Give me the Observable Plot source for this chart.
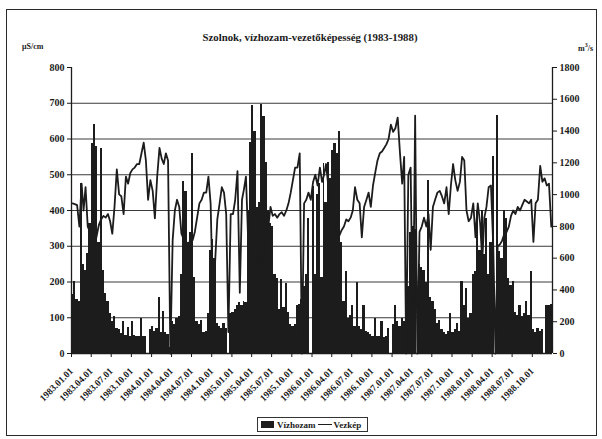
<!DOCTYPE html>
<html>
<head>
<meta charset="utf-8">
<script src="https://cdn.jsdelivr.net/npm/d3@7"></script>
<script src="https://cdn.jsdelivr.net/npm/@observablehq/plot@0.6"></script>
<style>
  body { margin: 0; background: #fff; }
  #wrap { position: relative; width: 602px; height: 439px; overflow: hidden;
          font-family: "Liberation Serif", "Times New Roman", serif; color: #1a1a1a; background: #fff; }
  #frame { position: absolute; left: 6px; top: 9px; width: 591px; height: 427px;
           border: 1.5px solid #2a2a2a; box-sizing: border-box; }
  #title { position: absolute; left: 0; width: 620px; top: 31px; text-align: center;
           font-weight: bold; font-size: 10.8px; }
  .unit { position: absolute; top: 42px; font-weight: bold; font-size: 8px; }
  #chart { position: absolute; left: 0; top: 0; }
  #legend { position: absolute; left: 257px; top: 417px; width: 111px; height: 15px;
            border: 1px solid #333; box-sizing: border-box; display: flex; align-items: center;
            font-size: 9px; font-weight: bold; padding-left: 3px; }
  #legend .sw { width: 13px; height: 7px; background: #1c1c1c; margin-right: 3px; }
  #legend .ln { width: 14px; height: 0; border-top: 1.5px solid #1c1c1c; margin: 0 2px; }
</style>
</head>
<body>
<div id="wrap">
  <div id="frame"></div>
  <div id="title">Szolnok, vízhozam-vezetőképesség (1983-1988)</div>
  <div class="unit" style="left:22px">μS/cm</div>
  <div class="unit" style="left:578px">m<sup style="font-size:6px">3</sup>/s</div>
  <div id="chart"></div>
  <div id="legend"><span class="sw"></span><span>Vízhozam</span><span class="ln"></span><span>Vezkép</span></div>
</div>
<script>
// Dekad values (1st, 11th, 21st of each month), Jan..Dec
// Vízhozam (discharge, m3/s) - right axis
const vizhozam1983 = [370,455,340, 330,1070,560, 520,630,820, 1320,1440,1300, 700,1290,520, 380,330,250, 200,230,160, 150,125,200, 115,165,110, 200,115,110, 105,220,110, 110,0,150];
const vizhozam1984 = [170,140,160, 350,130,265, 130,120,40, 200,180,220, 230,500,1080, 1020,700,760, 1260,480,200, 180,210,130, 140,250,650, 720,600,190, 170,160,190, 160,0,250];
const vizhozam1985 = [260,280,300, 320,300,330, 320,900,1330, 1560,1400,920, 950,1570,1490, 1200,900,820, 800,500,470, 280,465,290, 440,260,180, 170,180,300, 310,340,420, 500,850,0];
const vizhozam1986 = [1050,500,1000, 1070,480,1195, 950,1200,1100, 1280,1320,1260, 1400,700,330, 515,220,240, 305,170,450, 170,150,305, 140,130,120, 110,220,110, 105,200,100, 110,160,0];
const vizhozam1987 = [180,305,200, 170,220,200, 480,420,760, 800,780,0, 560,540,520, 450,1090,350, 330,275,190, 210,150,130, 120,140,250, 130,150,190, 140,455,300, 410,220,250];
const vizhozam1988 = [500,515,900, 650,900,620, 850,500,700, 1240,0,1500, 640,600,900, 850,470,430, 455,260,240, 305,230,250, 325,240,515, 150,130,160, 140,150,0, 300,305,310];

// Vezkép (conductivity, μS/cm) - left axis
const vezkep1983 = [420,418,415, 355,475,400, 465,355,340, 320,300,330, 360,375,385, 380,390,370, 335,410,515, 445,440,390, 495,475,505, 515,520,530, 530,560,590, 540,430,485];
const vezkep1984 = [455,378,495, 575,545,530, 560,540,0, 317,400,430, 410,335,320, 310,300,320, 317,340,380, 420,430,450, 450,495,420, 150,250,375, 420,465,450, 390,60,390];
const vezkep1985 = [390,430,510, 170,430,460, 495,320,280, 260,250,270, 280,260,250, 300,355,410, 385,390,380, 390,395,385, 400,420,450, 485,520,520, 560,0,420, 430,450,430];
const vezkep1986 = [480,500,470, 520,480,500, 530,470,420, 380,340,320, 330,345,355, 375,370,380, 400,465,430, 420,325,410, 430,450,410, 470,505,540, 560,565,575, 585,600,640];
const vezkep1987 = [620,630,660, 560,475,550, 0,500,520, 40,665,0, 340,355,380, 355,390,290, 410,430,450, 455,440,420, 465,390,470, 530,485,455, 480,550,540, 400,370,380];
const vezkep1988 = [420,325,420, 365,260,380, 410,465,470, 300,0,300, 305,315,335, 340,355,385, 400,390,410, 400,415,430, 425,420,430, 312,420,430, 525,480,490, 470,475,355];

const years = [1983, 1984, 1985, 1986, 1987, 1988];
const dekadDays = [1, 11, 21];
const leftTicks = [0, 100, 200, 300, 400, 500, 600, 700, 800];
const rightTicks = [0, 200, 400, 600, 800, 1000, 1200, 1400, 1600, 1800];
const xDomain = [new Date(Date.UTC(1983, 0, 1)), new Date(Date.UTC(1989, 0, 1))];
const quarterTicks = d3.utcMonth.every(3).range(xDomain[0], xDomain[1]);

const qSeries = [vizhozam1983, vizhozam1984, vizhozam1985, vizhozam1986, vizhozam1987, vizhozam1988];
const cSeries = [vezkep1983, vezkep1984, vezkep1985, vezkep1986, vezkep1987, vezkep1988];

const rows = [];
years.forEach((yr, yi) => {
  for (let i = 0; i < 36; i++) {
    const m = Math.floor(i / 3), d = i % 3;
    const start = new Date(Date.UTC(yr, m, dekadDays[d]));
    const end = d < 2 ? new Date(Date.UTC(yr, m, dekadDays[d + 1])) : new Date(Date.UTC(yr, m + 1, 1));
    rows.push({start, end, mid: new Date((+start + +end) / 2), q: qSeries[yi][i], c: cSeries[yi][i]});
  }
});

const k = 800 / 1800; // right-axis (m3/s) to left-axis (μS/cm) scaling

const chart = Plot.plot({
  width: 602,
  height: 415,
  marginLeft: 71,
  marginRight: 50,
  marginTop: 67,
  marginBottom: 62,
  style: {fontFamily: "'Liberation Serif', 'Times New Roman', serif", fontSize: "10px", color: "#1a1a1a", background: "transparent", overflow: "visible"},
  x: {type: "utc", domain: xDomain},
  y: {domain: [0, 800]},
  marks: [
    Plot.gridY(leftTicks.filter(d => d > 0 && d < 800), {stroke: "#3a3a3a", strokeOpacity: 1, strokeWidth: 1}),
    Plot.rectY(rows, {x1: "start", x2: "end", y: d => d.q * k, fill: "#1c1c1c", shapeRendering: "crispEdges"}),
    Plot.line(rows, {x: "mid", y: "c", stroke: "#1c1c1c", strokeWidth: 1.8}),
    Plot.ruleY([0], {stroke: "#1c1c1c", strokeWidth: 1.3}),
    Plot.ruleX(xDomain, {stroke: "#1c1c1c", strokeWidth: 1.3}),
    Plot.axisY(leftTicks, {anchor: "left", tickSize: 4, tickPadding: 3, label: null, fontWeight: "bold"}),
    Plot.axisY(rightTicks.map(v => v * k), {anchor: "right", tickSize: 4, tickPadding: 3, label: null,
      tickFormat: d => String(Math.round(d / k)), fontWeight: "bold"}),
    Plot.axisX(quarterTicks, {anchor: "bottom", tickSize: 4, tickPadding: 12, tickRotate: -45,
      textAnchor: "end", lineAnchor: "middle", label: null,
      tickFormat: d3.utcFormat("%Y.%m.%d"), fontWeight: "bold", fontSize: 9.5})
  ]
});
document.getElementById("chart").appendChild(chart);
</script>
</body>
</html>
